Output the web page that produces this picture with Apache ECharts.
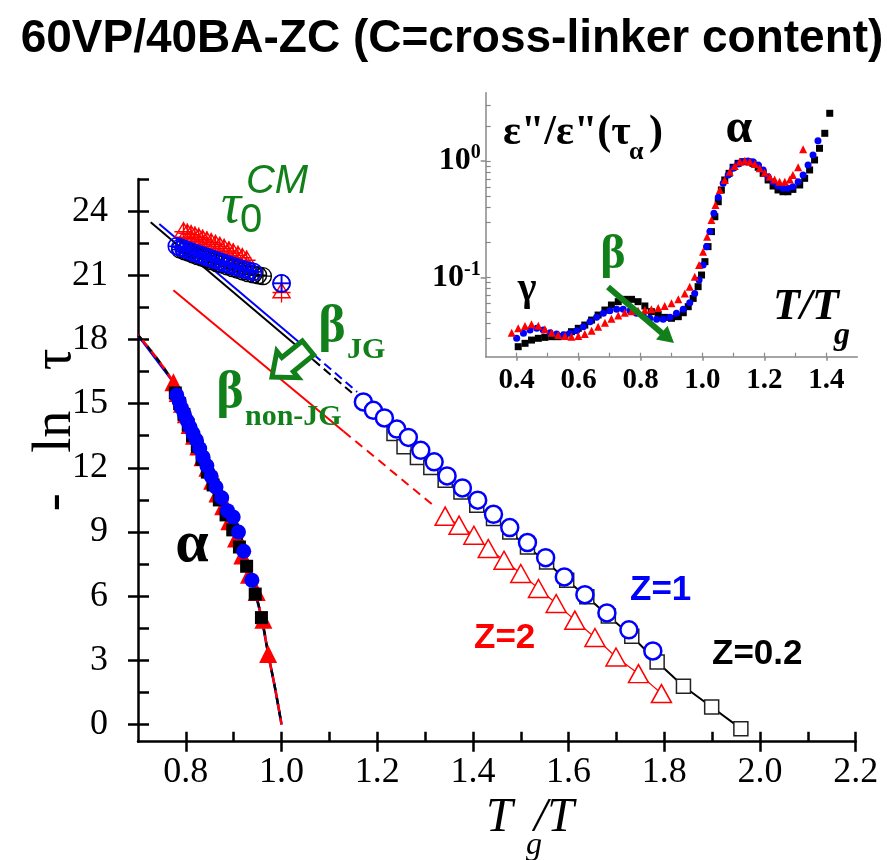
<!DOCTYPE html>
<html><head><meta charset="utf-8">
<script src="https://cdn.jsdelivr.net/npm/echarts@6/dist/echarts.min.js"></script>
<style>html,body{margin:0;padding:0;background:#fff}#c{width:887px;height:860px}</style>
</head><body><div id="c"></div>
<script>
// ---------- main plot: -ln tau vs Tg/T ----------
const xMajorTicks = [0.8, 1.0, 1.2, 1.4, 1.6, 1.8, 2.0, 2.2];
const xMinorTicks = [0.8, 0.9, 1.0, 1.1, 1.2, 1.3, 1.4, 1.5, 1.6, 1.7, 1.8, 1.9, 2.0, 2.1, 2.2];
const yMajorTicks = [0, 3, 6, 9, 12, 15, 18, 21, 24];
const yMinorTicks = [0, 1.5, 3, 4.5, 6, 7.5, 9, 10.5, 12, 13.5, 15, 16.5, 18, 19.5, 21, 22.5, 24, 25.5];

// alpha relaxation (filled symbols)
const alphaSquares = [[0.778,15.5],[0.787,15.0],[0.796,14.5],[0.805,14.0],[0.814,13.5],[0.824,13.0],[0.834,12.4],[0.845,11.8],[0.857,11.2],[0.870,10.5],[0.884,9.8],[0.898,9.1],[0.912,8.3],[0.927,7.4],[0.945,6.1],[0.958,5.0]];
const alphaCircles = [[0.781,15.4],[0.786,15.1],[0.791,14.8],[0.797,14.5],[0.803,14.2],[0.809,13.9],[0.815,13.6],[0.822,13.3],[0.829,12.9],[0.836,12.5],[0.844,12.1],[0.853,11.6],[0.863,11.1],[0.875,10.6],[0.887,10.0],[0.899,9.7],[0.910,9.0],[0.921,8.1],[0.938,6.75]];
const alphaTriangles = [[0.774,16.0],[0.783,15.5],[0.792,15.0],[0.800,14.5],[0.808,14.0],[0.817,13.5],[0.826,13.0],[0.835,12.5],[0.845,12.0],[0.855,11.4],[0.866,10.8],[0.878,10.2],[0.891,9.5],[0.905,8.7],[0.918,7.9],[0.932,7.0],[0.948,6.2],[0.962,4.9],[0.972,3.3]];
const alphaFit = [[0.700,18.2],[0.774,16.0],[0.823,13.76],[0.875,10.95],[0.913,8.93],[0.938,6.75],[0.958,5.03],[0.972,3.32],[0.986,1.76],[1.000,0.0]];

// tau_0^CM (crossed symbols)
const cmBlue = [[0.781,22.36],[0.788,22.30],[0.795,22.25],[0.802,22.18],[0.810,22.12],[0.818,22.05],[0.826,21.99],[0.834,21.93],[0.843,21.86],[0.852,21.79],[0.861,21.72],[0.870,21.65],[0.880,21.57],[0.890,21.50],[0.900,21.42],[0.910,21.35],[0.921,21.28],[0.931,21.22],[0.941,21.16],[1.000,20.62]];
const cmBlack = [[0.788,22.20],[0.797,22.12],[0.806,22.05],[0.815,21.97],[0.824,21.90],[0.834,21.82],[0.844,21.74],[0.854,21.66],[0.864,21.58],[0.875,21.50],[0.886,21.42],[0.897,21.34],[0.908,21.26],[0.919,21.18],[0.930,21.10],[0.941,21.04],[0.951,21.00],[0.961,20.96],[1.000,20.62]];
const cmRed = [[0.795,23.03],[0.803,22.96],[0.811,22.90],[0.819,22.83],[0.827,22.76],[0.835,22.68],[0.844,22.60],[0.853,22.52],[0.862,22.44],[0.871,22.35],[0.880,22.25],[0.890,22.14],[0.899,22.04],[0.909,21.93],[0.918,21.82],[0.927,21.70],[1.000,20.20]];

// beta relaxation (open symbols) and lines
const betaZ02 = [[1.235,13.6],[1.256,12.98],[1.284,12.48],[1.312,12.01],[1.342,11.42],[1.375,10.87],[1.408,10.25],[1.443,9.63],[1.477,9.0],[1.514,8.30],[1.554,7.60],[1.596,6.75],[1.638,5.97],[1.683,5.07],[1.732,4.13],[1.785,2.93],[1.840,1.79],[1.899,0.82],[1.960,-0.19]];
const betaZ1 = [[1.171,15.08],[1.192,14.69],[1.215,14.33],[1.241,13.81],[1.265,13.42],[1.291,12.82],[1.319,12.28],[1.346,11.62],[1.378,11.06],[1.410,10.49],[1.443,9.83],[1.477,9.21],[1.514,8.51],[1.552,7.8],[1.591,6.9],[1.634,6.07],[1.680,5.22],[1.726,4.43],[1.776,3.44]];
const betaZ2 = [[1.342,9.74],[1.371,9.32],[1.402,8.85],[1.432,8.23],[1.465,7.68],[1.500,7.06],[1.537,6.36],[1.574,5.66],[1.613,4.88],[1.655,4.07],[1.699,3.16],[1.746,2.38],[1.794,1.45]];
const lineJGBlackSolid = [[0.7265,23.48],[1.066,17.05]];
const lineJGBlackDash = [[1.066,17.05],[1.150,15.45]];
const lineJGBlueSolid = [[0.7445,23.40],[1.072,17.20]];
const lineJGBlueDash = [[1.072,17.20],[1.158,15.55]];
const lineNonJGSolid = [[0.774,20.3],[1.130,13.7]];
const lineNonJGDash = [[1.130,13.7],[1.317,10.25]];

// ---------- inset: eps''/eps''(tau_alpha) (log10) vs T/Tg ----------
const insetXTicks = [0.4, 0.6, 0.8, 1.0, 1.2, 1.4];
const insetXMinor = [0.4, 0.5, 0.6, 0.7, 0.8, 0.9, 1.0, 1.1, 1.2, 1.3, 1.4];
const insetYDecades = [-1, 0];
const insetYMinorValues = [0.03,0.04,0.05,0.06,0.07,0.08,0.09,0.1,0.2,0.3,0.4,0.5,0.6,0.7,0.8,0.9,1,2,3];
const insetBlack = [[0.405,-1.596],[0.427,-1.567],[0.448,-1.539],[0.470,-1.524],[0.491,-1.516],[0.513,-1.510],[0.534,-1.510],[0.556,-1.496],[0.577,-1.467],[0.599,-1.438],[0.620,-1.410],[0.642,-1.367],[0.663,-1.324],[0.685,-1.281],[0.706,-1.238],[0.728,-1.209],[0.749,-1.189],[0.771,-1.189],[0.792,-1.209],[0.814,-1.246],[0.835,-1.295],[0.857,-1.324],[0.878,-1.344],[0.900,-1.352],[0.922,-1.338],[0.938,-1.304],[0.954,-1.252],[0.970,-1.181],[0.986,-1.080],[0.997,-0.980],[1.008,-0.865],[1.018,-0.736],[1.029,-0.607],[1.040,-0.479],[1.051,-0.350],[1.061,-0.249],[1.072,-0.163],[1.086,-0.106],[1.099,-0.054],[1.115,-0.020],[1.131,-0.006],[1.147,-0.006],[1.163,-0.020],[1.180,-0.054],[1.196,-0.106],[1.212,-0.163],[1.228,-0.215],[1.244,-0.249],[1.260,-0.264],[1.276,-0.264],[1.292,-0.244],[1.314,-0.206],[1.330,-0.149],[1.346,-0.077],[1.362,0.009],[1.378,0.109],[1.395,0.238],[1.411,0.410]];
const insetBlue = [[0.400,-1.524],[0.422,-1.481],[0.443,-1.453],[0.465,-1.438],[0.486,-1.453],[0.508,-1.476],[0.529,-1.487],[0.551,-1.496],[0.572,-1.481],[0.594,-1.458],[0.615,-1.424],[0.637,-1.381],[0.658,-1.344],[0.680,-1.309],[0.701,-1.287],[0.723,-1.275],[0.744,-1.275],[0.766,-1.287],[0.787,-1.309],[0.809,-1.332],[0.830,-1.352],[0.852,-1.361],[0.873,-1.361],[0.895,-1.344],[0.916,-1.309],[0.938,-1.275],[0.959,-1.218],[0.975,-1.138],[0.989,-1.023],[1.002,-0.894],[1.013,-0.736],[1.024,-0.607],[1.037,-0.450],[1.051,-0.312],[1.067,-0.192],[1.083,-0.120],[1.099,-0.063],[1.115,-0.026],[1.131,-0.006],[1.147,0.000],[1.163,-0.006],[1.180,-0.034],[1.196,-0.077],[1.212,-0.135],[1.228,-0.178],[1.244,-0.215],[1.260,-0.235],[1.276,-0.235],[1.292,-0.221],[1.309,-0.178],[1.325,-0.120],[1.341,-0.034],[1.357,0.052],[1.373,0.175]];
const insetRed = [[0.384,-1.476],[0.405,-1.438],[0.427,-1.418],[0.448,-1.404],[0.470,-1.415],[0.491,-1.447],[0.513,-1.476],[0.534,-1.496],[0.556,-1.504],[0.577,-1.510],[0.599,-1.504],[0.620,-1.487],[0.642,-1.458],[0.663,-1.424],[0.685,-1.390],[0.706,-1.355],[0.728,-1.327],[0.749,-1.304],[0.771,-1.292],[0.792,-1.287],[0.814,-1.281],[0.835,-1.275],[0.857,-1.264],[0.878,-1.246],[0.900,-1.223],[0.922,-1.189],[0.943,-1.138],[0.959,-1.080],[0.975,-0.994],[0.989,-0.894],[1.002,-0.779],[1.015,-0.650],[1.029,-0.507],[1.042,-0.378],[1.056,-0.249],[1.072,-0.163],[1.088,-0.092],[1.104,-0.043],[1.120,-0.006],[1.137,0.003],[1.153,-0.006],[1.169,-0.026],[1.185,-0.063],[1.201,-0.100],[1.217,-0.135],[1.233,-0.158],[1.249,-0.178],[1.266,-0.178],[1.282,-0.158],[1.292,-0.120],[1.309,-0.054],[1.325,0.100]];

// ---------- styling ----------
const SERIF = '"Liberation Serif", "Times New Roman", serif';
const SANS = '"Liberation Sans", Arial, sans-serif';
const GREEN = '#12801a';
const BLUE = '#0000ff';
const RED = '#ff0000';
const CROSS_CIRCLE = 'path://M0 10A10 10 0 1 0 20 10A10 10 0 1 0 0 10ZM0 10L20 10M10 0L10 20';
const CROSS_TRI = 'path://M10 1L19.5 17L0.5 17ZM10 0L10 22M0 11L20 11M0 17L20 17';

function txt(text, x, y, size, o) {
  o = o || {};
  return { type: 'text', x: x, y: y, z: 100, rotation: o.rotation || 0,
    style: { text: text, fill: o.color || '#000', fontSize: size,
      fontFamily: o.family || SERIF, fontWeight: o.weight || 'normal', fontStyle: o.style || 'normal',
      align: o.align || 'center', verticalAlign: 'middle' } };
}

function lineSeries(data, color, width, type, offset, xi) {
  return { type: 'line', data: data, xAxisIndex: xi || 0, yAxisIndex: xi || 0, symbol: 'none', silent: true,
    lineStyle: { color: color, width: width, type: type || 'solid', dashOffset: offset || 0 }, z: 2 };
}
function scatter(data, symbol, size, fill, border, bw, xi, z) {
  return { type: 'scatter', data: data, xAxisIndex: xi || 0, yAxisIndex: xi || 0, symbol: symbol, symbolSize: size, silent: true,
    itemStyle: { color: fill, borderColor: border, borderWidth: bw, opacity: 1 }, z: z || 3 };
}

const option = {
  animation: false,
  backgroundColor: '#fff',
  grid: [
    { left: 138, top: 179, width: 717.7, height: 562.7, outerBoundsMode: 'none', containLabel: false },
    { left: 485.7, top: 92.7, width: 371.6, height: 264, outerBoundsMode: 'none', containLabel: false }
  ],
  xAxis: [
    { type: 'value', gridIndex: 0, min: 0.7, max: 2.2, position: 'bottom',
      axisLine: { show: true, onZero: false, lineStyle: { color: '#000', width: 2.5 } },
      axisTick: { show: true, inside: false, length: 10, customValues: xMajorTicks, lineStyle: { color: '#000', width: 2.5 } },
      axisLabel: { show: true, customValues: xMajorTicks, margin: 13, color: '#000', fontSize: 36, fontFamily: SERIF, formatter: v => v.toFixed(1) },
      splitLine: { show: false } },
    { type: 'value', gridIndex: 0, min: 0.7, max: 2.2, position: 'bottom',
      axisLine: { show: false, onZero: false },
      axisTick: { show: true, inside: true, length: 10, customValues: xMinorTicks, lineStyle: { color: '#000', width: 2.5 } },
      axisLabel: { show: false }, splitLine: { show: false } },
    { type: 'value', gridIndex: 1, min: 0.3, max: 1.5, position: 'bottom',
      axisLine: { show: true, onZero: false, lineStyle: { color: '#888', width: 1.5 } },
      axisTick: { show: true, inside: false, length: 4, customValues: insetXTicks, lineStyle: { color: '#888', width: 1.5 } },
      axisLabel: { show: true, customValues: insetXTicks, margin: 9, color: '#000', fontSize: 29, fontWeight: 'bold', fontFamily: SERIF, formatter: v => v.toFixed(1) },
      splitLine: { show: false } },
    { type: 'value', gridIndex: 1, min: 0.3, max: 1.5, position: 'bottom',
      axisLine: { show: false, onZero: false },
      axisTick: { show: true, inside: true, length: 4, customValues: insetXMinor, lineStyle: { color: '#888', width: 1.2 } },
      axisLabel: { show: false }, splitLine: { show: false } }
  ],
  yAxis: [
    { type: 'value', gridIndex: 0, min: -0.8, max: 25.5, position: 'left',
      axisLine: { show: true, onZero: false, lineStyle: { color: '#000', width: 2.5 } },
      axisTick: { show: true, inside: false, length: 10, customValues: yMajorTicks, lineStyle: { color: '#000', width: 2.5 } },
      axisLabel: { show: true, customValues: yMajorTicks, margin: 30, color: '#000', fontSize: 36, fontFamily: SERIF, formatter: v => String(Math.round(v)) },
      splitLine: { show: false } },
    { type: 'value', gridIndex: 0, min: -0.8, max: 25.5, position: 'left',
      axisLine: { show: false, onZero: false },
      axisTick: { show: true, inside: true, length: 11, customValues: yMinorTicks, lineStyle: { color: '#000', width: 2.5 } },
      axisLabel: { show: false }, splitLine: { show: false } },
    { type: 'value', gridIndex: 1, min: -1.682, max: 0.587, position: 'left',
      axisLine: { show: true, onZero: false, lineStyle: { color: '#888', width: 1.5 } },
      axisTick: { show: true, inside: false, length: 5, customValues: insetYDecades, lineStyle: { color: '#888', width: 1.5 } },
      axisLabel: { show: true, customValues: insetYDecades, margin: 5, color: '#000',
        formatter: v => '{a|10}{b|' + (Math.round(v) === 0 ? '0' : '-1') + '}',
        rich: { a: { fontSize: 32, fontWeight: 'bold', fontFamily: SERIF, lineHeight: 36, color: '#000' },
                b: { fontSize: 20, fontWeight: 'bold', fontFamily: SERIF, lineHeight: 20, verticalAlign: 'top', color: '#000' } } },
      splitLine: { show: false } },
    { type: 'value', gridIndex: 1, min: -1.682, max: 0.587, position: 'left',
      axisLine: { show: false, onZero: false },
      axisTick: { show: true, inside: true, length: 5, customValues: insetYMinorValues.map(v => Math.log10(v)), lineStyle: { color: '#888', width: 1.2 } },
      axisLabel: { show: false }, splitLine: { show: false } }
  ],
  series: [
    // alpha fits
    lineSeries(alphaFit, BLUE, 2.5, 'solid', 0, 0),
    Object.assign(lineSeries(alphaFit, '#000', 2.5, [8, 6], 0, 0), { smooth: true }),
    Object.assign(lineSeries(alphaFit, RED, 2.5, [8, 6], 7, 0), { smooth: true }),
    // beta lines
    lineSeries(lineJGBlackSolid, '#000', 2, 'solid'),
    lineSeries(lineJGBlackDash, '#000', 2, [9, 5]),
    lineSeries(lineJGBlueSolid, BLUE, 2, 'solid'),
    lineSeries(lineJGBlueDash, BLUE, 2, [9, 5], 3),
    lineSeries(lineNonJGSolid, RED, 2, 'solid'),
    lineSeries(lineNonJGDash, RED, 2, [9, 6]),
    // alpha points
    scatter(alphaTriangles, 'triangle', 18, RED, RED, 0, 0, 3),
    scatter(alphaSquares, 'rect', 13, '#000', '#000', 0, 0, 4),
    scatter(alphaCircles, 'circle', 15, BLUE, BLUE, 0, 0, 5),
    // tau0 CM
    scatter(cmRed, CROSS_TRI, [18, 20], 'rgba(255,255,255,0)', RED, 1.4, 0, 3),
    scatter(cmBlack, CROSS_CIRCLE, 17, 'rgba(255,255,255,0)', '#000', 1.4, 0, 4),
    scatter(cmBlue, CROSS_CIRCLE, 17, 'rgba(255,255,255,0)', BLUE, 1.6, 0, 5),
    // beta open symbols
    Object.assign(lineSeries(betaZ02, '#000', 2, 'solid'), { z: 2 }),
    Object.assign(lineSeries(betaZ2, RED, 1.2, 'solid'), { z: 2 }),
    scatter(betaZ02, 'rect', 14, '#fff', '#222', 1.5, 0, 3),
    scatter(betaZ2, 'triangle', [20, 18], '#fff', RED, 1.5, 0, 3),
    scatter(betaZ1, 'circle', 17, '#fff', BLUE, 2.5, 0, 4),
    // inset
    scatter(insetBlack, 'rect', 7, '#000', '#000', 0, 2, 3),
    scatter(insetBlue, 'circle', 7, BLUE, BLUE, 0, 2, 4),
    scatter(insetRed, 'triangle', 8, RED, RED, 0, 2, 5)
  ],
  graphic: [
    txt('60VP/40BA-ZC (C=cross-linker content)', 452, 39, 46, { family: SANS, weight: 'bold' }),
    txt('-   ln   τ', 56, 430, 54, { rotation: Math.PI / 2 }),
    txt('T', 486, 818, 48, { style: 'italic', align: 'left' }),
    txt('g', 526, 846, 32, { style: 'italic', align: 'left' }),
    txt('/T', 534, 818, 48, { style: 'italic', align: 'left' }),
    // tau0^CM
    txt('τ', 231, 207, 56, { style: 'italic', color: GREEN }),
    txt('0', 251, 221, 40, { family: SANS, color: GREEN }),
    txt('CM', 277, 182, 40, { family: SANS, style: 'italic', color: GREEN }),
    // beta labels
    txt('β', 332, 328, 52, { weight: 'bold', color: GREEN }),
    txt('JG', 347, 350, 30, { weight: 'bold', color: GREEN, align: 'left' }),
    txt('β', 230, 394, 52, { weight: 'bold', color: GREEN }),
    txt('non-JG', 245, 417, 30, { weight: 'bold', color: GREEN, align: 'left' }),
    txt('α', 192, 545, 60, { weight: 'bold' }),
    txt('Z=1', 630, 590, 35, { family: SANS, weight: 'bold', color: BLUE, align: 'left' }),
    txt('Z=2', 474, 638, 35, { family: SANS, weight: 'bold', color: RED, align: 'left' }),
    txt('Z=0.2', 712, 654, 35, { family: SANS, weight: 'bold', align: 'left' }),
    // hollow arrow
    { type: 'polygon', z: 90, shape: { points: [[302.3,341.0],[281.9,357.5],[276.9,351.3],[272,377],[298.3,377.7],[293.3,371.5],[313.7,355.0]] },
      style: { fill: '#fff', stroke: GREEN, lineWidth: 5, lineJoin: 'miter' } },
    // inset texts
    txt('ε"/ε"(τ', 503, 133, 42, { weight: 'bold', align: 'left' }),
    txt('α', 629, 152, 26, { weight: 'bold', align: 'left' }),
    txt(')', 649, 133, 42, { weight: 'bold', align: 'left' }),
    txt('α', 739, 130, 48, { weight: 'bold' }),
    txt('γ', 527, 290, 40, { weight: 'bold' }),
    txt('β', 613, 256, 48, { weight: 'bold', color: GREEN }),
    txt('T/T', 773, 308, 44, { weight: 'bold', style: 'italic', align: 'left' }),
    txt('g', 834, 336, 32, { weight: 'bold', style: 'italic', align: 'left' }),
    // inset arrow
    { type: 'line', z: 90, shape: { x1: 608, y1: 287, x2: 663, y2: 334 }, style: { stroke: GREEN, lineWidth: 6 } },
    { type: 'polygon', z: 90, shape: { points: [[674,343],[656,339.6],[667.6,325.8]] }, style: { fill: GREEN } }
  ]
};
const chart = echarts.init(document.getElementById('c'), null, { renderer: 'canvas' });
chart.setOption(option);
</script></body></html>
